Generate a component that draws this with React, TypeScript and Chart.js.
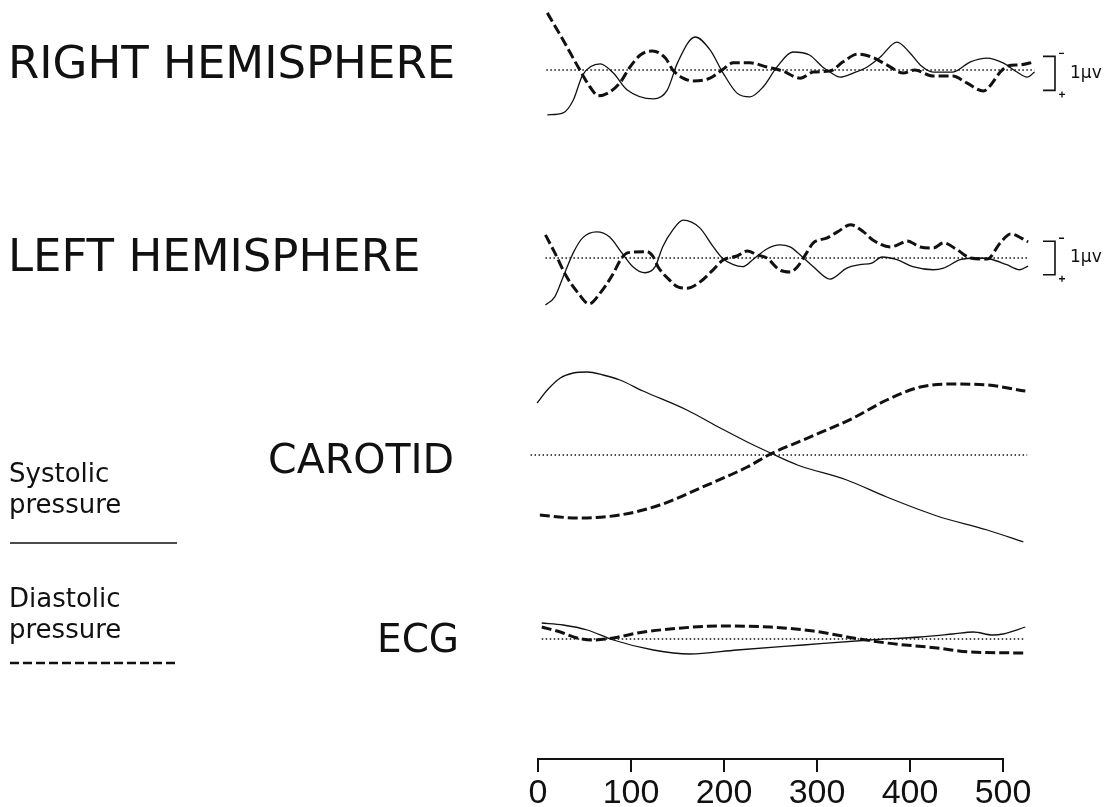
import React, { useEffect, useRef } from 'react';
import { Chart, registerables } from 'chart.js';

Chart.register(...registerables);

// ---------- Data (time in ms) ----------
const TIME_TICKS = [0, 100, 200, 300, 400, 500];
const TIME_MIN = 0;
const TIME_MAX = 500;

// Right hemisphere (µV, negative up)
const RH_SYS_X = [10, 27, 38, 48, 67, 81, 96, 124, 139, 150, 169, 185, 199, 214, 228, 242, 257, 274, 292, 306, 314, 325, 339, 354, 368, 386, 400, 411, 425, 446, 465, 483, 500, 515, 526, 534];
const RH_SYS_Y = [1.32, 1.26, 0.88, 0.15, -0.18, 0.09, 0.59, 0.85, 0.59, -0.21, -0.97, -0.59, 0.09, 0.68, 0.79, 0.5, -0.09, -0.53, -0.44, -0.09, 0.06, 0.21, 0.09, -0.09, -0.38, -0.82, -0.5, -0.15, 0.06, 0.06, -0.24, -0.35, -0.21, 0.06, 0.21, 0.06];
const RH_DIA_X = [10, 27, 45, 56, 65, 77, 88, 99, 110, 123, 137, 145, 156, 167, 185, 198, 210, 228, 246, 263, 282, 296, 314, 328, 344, 359, 375, 393, 405, 425, 446, 461, 479, 486, 497, 505, 518, 534];
const RH_DIA_Y = [-1.68, -0.88, 0, 0.5, 0.76, 0.65, 0.38, -0.09, -0.44, -0.56, -0.35, 0, 0.24, 0.32, 0.24, 0, -0.21, -0.21, -0.09, 0.03, 0.24, 0.06, 0.03, -0.24, -0.47, -0.38, -0.15, 0.09, 0, 0.18, 0.18, 0.38, 0.62, 0.47, 0.06, -0.12, -0.15, -0.24];

// Left hemisphere (µV, negative up)
const LH_SYS_X = [8, 18, 27, 38, 48, 63, 77, 90, 102, 115, 126, 134, 145, 156, 174, 187, 198, 210, 220, 231, 246, 260, 271, 282, 296, 314, 332, 346, 359, 370, 386, 403, 425, 436, 454, 472, 486, 504, 518, 527];
const LH_SYS_Y = [1.4, 1.16, 0.57, -0.16, -0.6, -0.78, -0.63, -0.16, 0.26, 0.44, 0.26, -0.33, -0.84, -1.13, -0.9, -0.39, 0, 0.2, 0.26, 0.05, -0.27, -0.39, -0.33, -0.09, 0.26, 0.63, 0.3, 0.2, 0.15, -0.03, 0.05, 0.26, 0.35, 0.3, 0.05, 0, 0.03, 0.2, 0.35, 0.24];
const LH_DIA_X = [8, 18, 31, 43, 55, 67, 80, 90, 97, 117, 124, 129, 139, 151, 160, 174, 188, 199, 214, 225, 236, 246, 260, 271, 279, 289, 296, 311, 322, 336, 350, 360, 379, 389, 397, 411, 425, 436, 451, 465, 483, 497, 508, 527];
const LH_DIA_Y = [-0.69, -0.16, 0.57, 1.04, 1.37, 1.04, 0.51, 0, -0.16, -0.19, -0.03, 0.26, 0.59, 0.87, 0.9, 0.72, 0.36, 0.06, -0.06, -0.21, -0.09, 0, 0.36, 0.42, 0.26, -0.16, -0.45, -0.6, -0.78, -0.99, -0.78, -0.54, -0.33, -0.42, -0.51, -0.33, -0.3, -0.45, -0.24, 0, 0.03, -0.45, -0.72, -0.48];

// Carotid (relative units, up positive)
const CA_SYS_X = [-1, 10, 24, 38, 53, 70, 88, 113, 160, 196, 225, 250, 279, 332, 375, 429, 483, 522];
const CA_SYS_Y = [5.2, 6.5, 7.7, 8.2, 8.3, 8.0, 7.5, 6.4, 4.5, 2.7, 1.3, 0.2, -1.0, -2.5, -4.2, -6.1, -7.5, -8.7];
const CA_DIA_X = [2, 42, 88, 131, 177, 225, 250, 285, 339, 375, 411, 446, 483, 524];
const CA_DIA_Y = [-6.0, -6.3, -6.0, -5.0, -3.2, -1.2, 0.1, 1.5, 3.7, 5.5, 6.8, 7.1, 7.0, 6.4];

// ECG (relative units, up positive)
const ECG_SYS_X = [4, 27, 53, 81, 124, 163, 214, 285, 357, 411, 446, 468, 489, 500, 524];
const ECG_SYS_Y = [1.6, 1.4, 0.9, -0.1, -1.1, -1.5, -1.1, -0.6, -0.1, 0.2, 0.5, 0.7, 0.4, 0.5, 1.2];
const ECG_DIA_X = [4, 24, 42, 59, 81, 107, 142, 196, 250, 296, 339, 375, 429, 465, 524];
const ECG_DIA_Y = [1.2, 0.7, 0.1, -0.1, 0.1, 0.6, 1.0, 1.3, 1.2, 0.8, 0.1, -0.4, -0.9, -1.3, -1.4];

// Zero baselines (time extent)
const RH_BASE_X = [9, 534];
const LH_BASE_X = [8, 526];
const CA_BASE_X = [-8, 526];
const ECG_BASE_X = [4, 524];
const BASE_Y = [0, 0];

const PANEL_LABELS = ['RIGHT HEMISPHERE', 'LEFT HEMISPHERE', 'CAROTID', 'ECG'];
const LEGEND_LABELS = [['Systolic', 'pressure'], ['Diastolic', 'pressure']];
const SCALE_LABEL = '1µv';

const zip = (xs: number[], ys: number[]) => xs.map((x, i) => ({ x, y: ys[i] }));

const INK = '#111';

const solid = (label: string, xs: number[], ys: number[], axis: string) => ({
  label, data: zip(xs, ys), yAxisID: axis,
  borderColor: INK, borderWidth: 1.3, pointRadius: 0,
  cubicInterpolationMode: 'monotone' as const, clip: false as any, fill: false,
});
const dashed = (label: string, xs: number[], ys: number[], axis: string) => ({
  label, data: zip(xs, ys), yAxisID: axis,
  borderColor: INK, borderWidth: 3, borderDash: [10, 4], pointRadius: 0,
  cubicInterpolationMode: 'monotone' as const, clip: false as any, fill: false,
});
const dotted = (label: string, xs: number[], axis: string) => ({
  label, data: zip(xs, BASE_Y), yAxisID: axis,
  borderColor: INK, borderWidth: 1.3, borderDash: [1.5, 2.5], pointRadius: 0,
  clip: false as any, fill: false,
});

const figurePlugin = {
  id: 'figureText',
  afterDraw(chart: any) {
    const ctx = chart.ctx as CanvasRenderingContext2D;
    ctx.save();
    ctx.fillStyle = INK;
    ctx.strokeStyle = INK;
    ctx.textBaseline = 'alphabetic';
    ctx.textAlign = 'left';

    ctx.font = '45px "DejaVu Sans"';
    ctx.fillText(PANEL_LABELS[0], 8, 78);
    ctx.fillText(PANEL_LABELS[1], 8, 271);
    ctx.font = '41px "DejaVu Sans"';
    ctx.fillText(PANEL_LABELS[2], 268, 473);
    ctx.font = '39px "DejaVu Sans"';
    ctx.fillText(PANEL_LABELS[3], 377, 652);

    // legend
    ctx.font = '26px "DejaVu Sans"';
    ctx.fillText(LEGEND_LABELS[0][0], 9, 482);
    ctx.fillText(LEGEND_LABELS[0][1], 9, 513);
    ctx.fillText(LEGEND_LABELS[1][0], 9, 607);
    ctx.fillText(LEGEND_LABELS[1][1], 9, 638);
    ctx.lineWidth = 1.4;
    ctx.setLineDash([]);
    ctx.beginPath();
    ctx.moveTo(10, 543);
    ctx.lineTo(177, 543);
    ctx.stroke();
    ctx.lineWidth = 2.6;
    ctx.setLineDash([9, 4]);
    ctx.beginPath();
    ctx.moveTo(10, 663);
    ctx.lineTo(177, 663);
    ctx.stroke();
    ctx.setLineDash([]);

    // scale bars (1 µV)
    const bars: [string, number, number][] = [['yRH', -0.4, 0.6], ['yLH', -0.5, 0.5]];
    bars.forEach(([id, a, b]) => {
      const s = chart.scales[id];
      const top = s.getPixelForValue(a);
      const bot = s.getPixelForValue(b);
      ctx.lineWidth = 1.6;
      ctx.beginPath();
      ctx.moveTo(1043, top);
      ctx.lineTo(1055, top);
      ctx.lineTo(1055, bot);
      ctx.lineTo(1043, bot);
      ctx.stroke();
      ctx.lineWidth = 1.3;
      ctx.beginPath();
      ctx.moveTo(1059, top - 3);
      ctx.lineTo(1064, top - 3);
      ctx.moveTo(1059, bot + 4);
      ctx.lineTo(1065, bot + 4);
      ctx.moveTo(1062, bot + 1);
      ctx.lineTo(1062, bot + 7);
      ctx.stroke();
      ctx.font = '17px "DejaVu Sans"';
      ctx.textBaseline = 'middle';
      ctx.fillText(SCALE_LABEL, 1070, (top + bot) / 2);
      ctx.textBaseline = 'alphabetic';
    });
    ctx.restore();
  },
};

export default function App() {
  const ref = useRef<HTMLCanvasElement | null>(null);
  useEffect(() => {
    if (!ref.current) return;
    const chart = new Chart(ref.current, {
      type: 'line',
      data: {
        datasets: [
          dotted('RH baseline', RH_BASE_X, 'yRH'),
          solid('RH systolic', RH_SYS_X, RH_SYS_Y, 'yRH'),
          dashed('RH diastolic', RH_DIA_X, RH_DIA_Y, 'yRH'),
          dotted('LH baseline', LH_BASE_X, 'yLH'),
          solid('LH systolic', LH_SYS_X, LH_SYS_Y, 'yLH'),
          dashed('LH diastolic', LH_DIA_X, LH_DIA_Y, 'yLH'),
          dotted('Carotid baseline', CA_BASE_X, 'yCA'),
          solid('Carotid systolic', CA_SYS_X, CA_SYS_Y, 'yCA'),
          dashed('Carotid diastolic', CA_DIA_X, CA_DIA_Y, 'yCA'),
          dotted('ECG baseline', ECG_BASE_X, 'yECG'),
          solid('ECG systolic', ECG_SYS_X, ECG_SYS_Y, 'yECG'),
          dashed('ECG diastolic', ECG_DIA_X, ECG_DIA_Y, 'yECG'),
        ] as any,
      },
      options: {
        animation: false,
        responsive: false,
        layout: { padding: { left: 538, right: 107, top: 0, bottom: 0 } },
        plugins: { legend: { display: false }, tooltip: { enabled: false } },
        scales: {
          x: {
            type: 'linear',
            position: 'bottom',
            afterDataLimits: (axis: any) => {
              axis.min = TIME_MIN;
              axis.max = TIME_MAX;
            },
            afterBuildTicks: (axis: any) => {
              axis.ticks = TIME_TICKS.map((v) => ({ value: v }));
              axis.min = TIME_MIN;
              axis.max = TIME_MAX;
            },
            afterFit: (axis: any) => {
              axis.height = 48;
            },
            ticks: {
              color: INK,
              padding: 1,
              maxRotation: 0,
              autoSkip: false,
              font: { family: '"Liberation Sans"', size: 34 },
            },
            grid: { drawOnChartArea: false, drawTicks: true, tickLength: 13, color: INK, lineWidth: 2 },
            border: { display: true, color: INK, width: 2 },
          },
          yRH: { type: 'linear', display: false, reverse: true, min: -70 / 34, max: 689 / 34 },
          yLH: { type: 'linear', display: false, reverse: true, min: -258 / 33.5, max: 501 / 33.5 },
          yCA: { type: 'linear', display: false, min: -30.4, max: 45.5 },
          yECG: { type: 'linear', display: false, min: -12.0, max: 63.9 },
        } as any,
      },
      plugins: [figurePlugin],
    });
    return () => chart.destroy();
  }, []);

  return (
    <div style={{ position: 'fixed', left: 0, top: 0, width: 1110, height: 807, background: '#fff' }}>
      <canvas ref={ref} width={1110} height={807} style={{ display: 'block' }} />
    </div>
  );
}
